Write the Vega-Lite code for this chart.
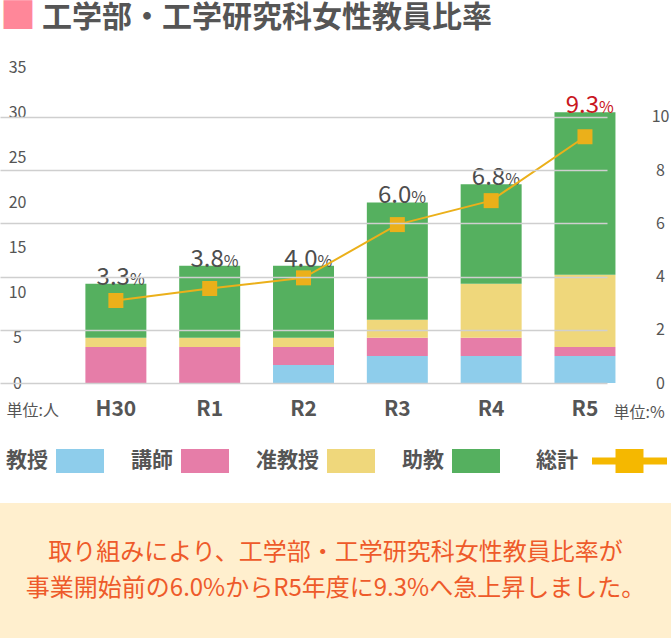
{
  "$schema": "https://vega.github.io/schema/vega-lite/v6.json",
  "padding": 0,
  "background": "white",
  "config": {
    "font": "Noto Sans CJK JP",
    "view": {"stroke": null}
  },
  "title": {
    "text": "■",
    "anchor": "start",
    "frame": "group",
    "dx": 0,
    "font": "Noto Sans CJK JP",
    "fontSize": 36,
    "fontWeight": "normal",
    "color": "#FF8799",
    "baseline": "top",
    "offset": -34
  },
  "datasets": {
    "staff": [
      {"year": "H30", "type": "教授", "ord": 1, "count": 0},
      {"year": "H30", "type": "講師", "ord": 2, "count": 4},
      {"year": "H30", "type": "准教授", "ord": 3, "count": 1},
      {"year": "H30", "type": "助教", "ord": 4, "count": 6},
      {"year": "R1", "type": "教授", "ord": 1, "count": 0},
      {"year": "R1", "type": "講師", "ord": 2, "count": 4},
      {"year": "R1", "type": "准教授", "ord": 3, "count": 1},
      {"year": "R1", "type": "助教", "ord": 4, "count": 8},
      {"year": "R2", "type": "教授", "ord": 1, "count": 2},
      {"year": "R2", "type": "講師", "ord": 2, "count": 2},
      {"year": "R2", "type": "准教授", "ord": 3, "count": 1},
      {"year": "R2", "type": "助教", "ord": 4, "count": 8},
      {"year": "R3", "type": "教授", "ord": 1, "count": 3},
      {"year": "R3", "type": "講師", "ord": 2, "count": 2},
      {"year": "R3", "type": "准教授", "ord": 3, "count": 2},
      {"year": "R3", "type": "助教", "ord": 4, "count": 13},
      {"year": "R4", "type": "教授", "ord": 1, "count": 3},
      {"year": "R4", "type": "講師", "ord": 2, "count": 2},
      {"year": "R4", "type": "准教授", "ord": 3, "count": 6},
      {"year": "R4", "type": "助教", "ord": 4, "count": 11},
      {"year": "R5", "type": "教授", "ord": 1, "count": 3},
      {"year": "R5", "type": "講師", "ord": 2, "count": 1},
      {"year": "R5", "type": "准教授", "ord": 3, "count": 8},
      {"year": "R5", "type": "助教", "ord": 4, "count": 18}
    ],
    "rates": [
      {"year": "H30", "rate": 3.1, "label": "3.3"},
      {"year": "R1", "rate": 3.55, "label": "3.8"},
      {"year": "R2", "rate": 3.95, "label": "4.0"},
      {"year": "R3", "rate": 5.95, "label": "6.0"},
      {"year": "R4", "rate": 6.85, "label": "6.8"},
      {"year": "R5", "rate": 9.25, "label": "9.3"}
    ]
  },
  "concat": [
    {
      "width": 647,
      "height": 316,
      "title": {
        "text": "工学部・工学研究科女性教員比率",
        "anchor": "start",
        "frame": "group",
        "dx": 42,
        "font": "Noto Sans CJK JP",
        "fontSize": 30,
        "fontWeight": "bold",
        "color": "#555555",
        "baseline": "top",
        "offset": 26
      },
      "layer": [
        {
          "data": {"name": "staff"},
          "layer": [
            {
              "mark": {"type": "bar"},
              "encoding": {
                "x": {
                  "field": "year",
                  "type": "nominal",
                  "scale": {"domain": ["H30", "R1", "R2", "R3", "R4", "R5"], "range": [40, 647], "paddingInner": 0.35, "paddingOuter": 0.41, "align": 0.59},
                  "axis": {
                    "title": null,
                    "labelAngle": 0,
                    "ticks": false,
                    "domain": false,
                    "grid": false,
                    "labelFontSize": 21,
                    "labelFontWeight": "bold",
                    "labelColor": "#555555",
                    "labelPadding": 26,
                    "labelBaseline": "middle"
                  }
                },
                "y": {
                  "field": "count",
                  "type": "quantitative",
                  "stack": "zero",
                  "scale": {"domain": [0, 35], "nice": false},
                  "axis": {
                    "orient": "left",
                    "values": [0, 5, 10, 15, 20, 25, 30, 35],
                    "grid": false,
                    "ticks": false,
                    "domain": false,
                    "labelFontSize": 16,
                    "labelColor": "#555555",
                    "labelAlign": "center",
                    "labelBaseline": "middle",
                    "labelPadding": -17,
                    "title": "単位:人",
                    "titleX": 6,
                    "titleY": 343,
                    "titleAngle": 0,
                    "titleAlign": "left",
                    "titleBaseline": "middle",
                    "titleFontSize": 16,
                    "titleFontWeight": "normal",
                    "titleColor": "#555555"
                  }
                },
                "color": {
                  "field": "type",
                  "type": "nominal",
                  "scale": {"domain": ["教授", "講師", "准教授", "助教"], "range": ["#8ECDEB", "#E67DA8", "#EFD77B", "#55B05F"]},
                  "legend": {
                    "orient": "none",
                    "legendX": 56,
                    "legendY": 370,
                    "direction": "horizontal",
                    "title": null,
                    "padding": 0,
                    "symbolType": "M-1,-0.5H1V0.5H-1Z",
                    "symbolSize": 2304,
                    "symbolStrokeWidth": 0,
                    "symbolOpacity": 1,
                    "labelAlign": "right",
                    "labelBaseline": "middle",
                    "labelOffset": -56,
                    "labelFontSize": 21,
                    "labelFontWeight": "bold",
                    "labelColor": "#555555",
                    "columnPadding": 27
                  }
                },
                "order": {"field": "ord", "type": "quantitative"}
              }
            },
            {
              "transform": [
                {"aggregate": [{"op": "sum", "field": "count", "as": "total"}], "groupby": ["year"]},
                {"lookup": "year", "from": {"data": {"name": "rates"}, "key": "year", "fields": ["label"]}}
              ],
              "layer": [
                {
                  "mark": {"type": "text", "align": "right", "baseline": "alphabetic", "dx": 14, "dy": 1, "fontSize": 24},
                  "encoding": {
                    "x": {"field": "year", "type": "nominal"},
                    "y": {"field": "total", "type": "quantitative"},
                    "text": {"field": "label"},
                    "color": {"condition": {"test": "datum.year === 'R5'", "value": "#C9171E"}, "value": "#4D4D4D"}
                  }
                },
                {
                  "mark": {"type": "text", "align": "left", "baseline": "alphabetic", "dx": 14, "dy": 1, "fontSize": 16, "text": "%"},
                  "encoding": {
                    "x": {"field": "year", "type": "nominal"},
                    "y": {"field": "total", "type": "quantitative"},
                    "color": {"condition": {"test": "datum.year === 'R5'", "value": "#C9171E"}, "value": "#4D4D4D"}
                  }
                }
              ]
            }
          ]
        },
        {
          "data": {"name": "rates"},
          "layer": [
            {
              "mark": {"type": "line", "strokeWidth": 2},
              "encoding": {
                "x": {"field": "year", "type": "nominal"},
                "y": {
                  "field": "rate",
                  "type": "quantitative",
                  "scale": {"domain": [0, 11.87], "nice": false},
                  "axis": {
                    "orient": "right",
                    "values": [0, 2, 4, 6, 8, 10],
                    "grid": true,
                    "gridColor": "#CFCFCF",
                    "gridWidth": 1.5,
                    "ticks": false,
                    "domain": false,
                    "labelFontSize": 16,
                    "labelColor": "#555555",
                    "labelAlign": "center",
                    "labelBaseline": "middle",
                    "labelPadding": 13,
                    "title": "単位:%",
                    "titleX": -34,
                    "titleY": 345,
                    "titleAngle": 0,
                    "titleAlign": "left",
                    "titleBaseline": "middle",
                    "titleFontSize": 16,
                    "titleFontWeight": "normal",
                    "titleColor": "#555555",
                    "zindex": 1
                  }
                },
                "stroke": {
                  "datum": "総計",
                  "type": "nominal",
                  "scale": {"range": ["#EBB01A"]},
                  "legend": {
                    "orient": "none",
                    "legendX": 592,
                    "legendY": 356.5,
                    "title": null,
                    "padding": 0,
                    "symbolType": "M-1,-0.093H1V0.093H-1Z M-0.373,-0.32H0.373V0.32H-0.373Z",
                    "symbolSize": 5625,
                    "symbolStrokeWidth": 0,
                    "labelAlign": "right",
                    "labelBaseline": "middle",
                    "labelOffset": -89,
                    "labelFontSize": 21,
                    "labelFontWeight": "bold",
                    "labelColor": "#555555",
                    "encode": {"symbols": {"update": {"fill": {"value": "#F5B800"}, "strokeWidth": {"value": 0}, "opacity": {"value": 1}}}}
                  }
                }
              }
            },
            {
              "mark": {"type": "point", "shape": "square", "size": 225, "filled": true, "opacity": 1, "color": "#EBB01A"},
              "encoding": {
                "x": {"field": "year", "type": "nominal"},
                "y": {"field": "rate", "type": "quantitative"}
              }
            }
          ]
        }
      ],
      "resolve": {"scale": {"y": "independent"}}
    },
    {
      "width": 671,
      "height": 135,
      "view": {"fill": "#FFEFCE", "stroke": null},
      "data": {"values": [{"msg": "取り組みにより、工学部・工学研究科女性教員比率が\n事業開始前の6.0%からR5年度に9.3%へ急上昇しました。"}]},
      "mark": {"type": "text", "lineBreak": "\n", "lineHeight": 36, "fontSize": 24, "color": "#EE5A2A", "align": "center", "baseline": "middle", "dy": -18},
      "encoding": {"text": {"field": "msg", "type": "nominal"}}
    }
  ],
  "columns": 1,
  "bounds": "full",
  "spacing": 83
}
